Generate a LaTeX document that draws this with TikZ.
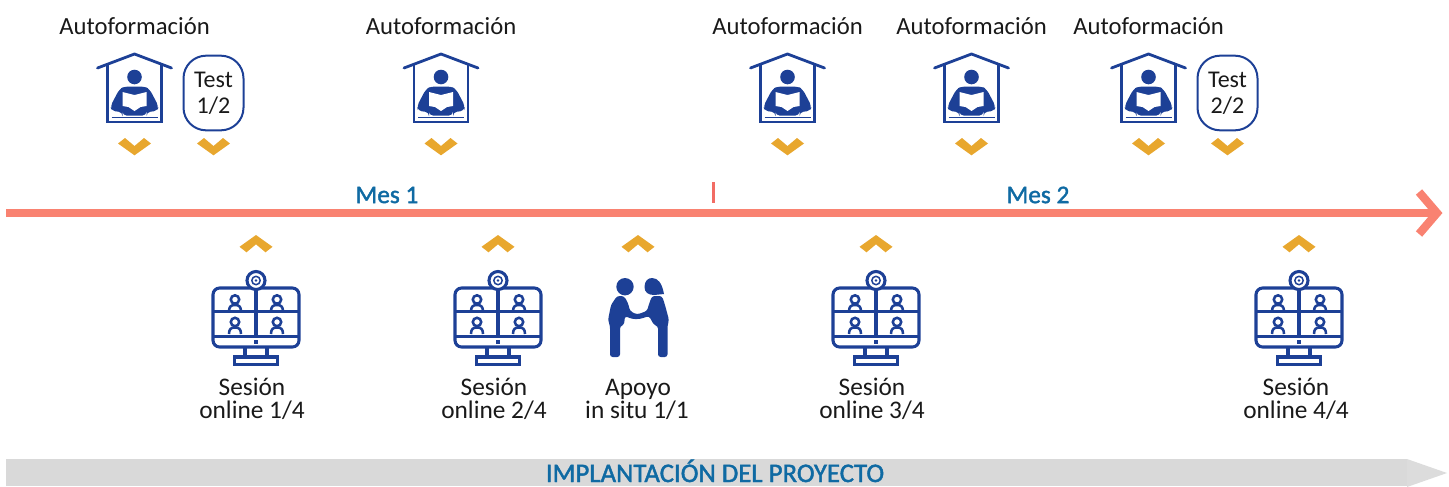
\documentclass[tikz,border=0pt]{standalone}
\usepackage{fontspec}
\setmainfont{Carlito}
\newfontfamily\medfont[FakeBold=1.6]{Carlito}
\definecolor{iconblue}{HTML}{1D4096}
\definecolor{chev}{HTML}{E8A72E}
\definecolor{salmon}{HTML}{F98271}
\definecolor{tickred}{HTML}{F26C64}
\definecolor{headblue}{HTML}{0F6AA3}
\definecolor{barg}{HTML}{D9D9D9}
\definecolor{barh}{HTML}{DCDCDC}
\tikzset{
  x=0.75pt,y=-0.75pt,
  lbl/.style={font=\fontsize{19}{18}\selectfont,text=black!90,align=center,inner sep=0pt},
  autolbl/.style={font=\fontsize{18.5}{18}\selectfont,text=black!90,align=center,inner sep=0pt},
  monthlbl/.style={font=\medfont\fontsize{19}{20}\selectfont,text=headblue,inner sep=0pt},
  testbox/.style={draw=iconblue,line width=1.5pt,rounded corners=17pt,minimum width=45pt,minimum height=56pt,inner sep=0pt,align=center,font=\fontsize{18}{19.5}\selectfont,text=black!90},
  icoline/.style={draw=iconblue,line width=2.1pt,line join=miter},
  pics/house/.style={code={
    \draw[icoline,line cap=round] (-37,14) -- (0,0) -- (37,14);
    \draw[icoline] (-27,11) -- (-27,68) -- (27,68) -- (27,11);
    \draw[draw=iconblue,line width=0.7pt] (-23,63.5) -- (23,63.5);
    \fill[iconblue] (0,23) circle (7.3);
    \fill[iconblue,rounded corners=3pt] (-10,32.5) -- (10,32.5) -- (15,35) -- (24,52) -- (23,57) -- (12,58) -- (12,61.5) -- (-12,61.5) -- (-12,58) -- (-23,57) -- (-24,52) -- (-15,35) -- cycle;
    \fill[white] (-12,38) -- (0,41) -- (12,38) -- (12,52) -- (6,53) -- (0,57) -- (-6,53) -- (-12,52) -- cycle;
  }},
  pics/monitor/.style={code={
    \draw[icoline,line width=2.3pt,rounded corners=5pt] (-43,8) rectangle (43,67);
    \draw[icoline,line width=2.3pt] (-43,31.5) -- (43,31.5) (-43,56.5) -- (43,56.5) (0,8) -- (0,56.5);
    \fill[white] (0,0.5) circle (9);
    \draw[icoline,line width=2.3pt] (0,0.5) circle (9);
    \draw[icoline,line width=1.1pt] (0,0.5) circle (4.2);
    \fill[iconblue] (0,0.5) circle (1.4);
    \fill[iconblue] (-1.7,60.2) rectangle (1.7,63.6);
    \draw[icoline,line width=2.3pt] (-11,67) -- (-11,77) (11,67) -- (11,77);
    \draw[icoline,line width=2.3pt] (-21.5,77) rectangle (21.5,84.5);
    \foreach \px in {-21,21}{\foreach \py in {19.5,42}{
      \draw[icoline,line width=1.9pt] (\px,\py) circle (4.2);
      \draw[icoline,line width=1.9pt] (\px-6,\py+12) .. controls (\px-6,\py+7) and (\px-4,\py+5.5) .. (\px,\py+5.5) .. controls (\px+4,\py+5.5) and (\px+6,\py+7) .. (\px+6,\py+12);
    }}
  }},
  pics/chevdown/.style={code={\fill[chev] (-16.5,5.5) -- (-9.5,0) -- (0,8) -- (9.5,0) -- (16.5,5.5) -- (0,17.3) -- cycle;}},
  pics/chevup/.style={code={\fill[chev] (-16.5,11.8) -- (-9.5,17.3) -- (0,9.3) -- (9.5,17.3) -- (16.5,11.8) -- (0,0) -- cycle;}},
}
\begin{document}
\begin{tikzpicture}
\useasboundingbox (0,0) rectangle (1449,486);
% bottom bar
\fill[barg] (6,459) rectangle (1407,486);
\fill[barh] (1407,459) -- (1447,473) -- (1407,487) -- cycle;
\node[font=\medfont\fontsize{20.1}{21}\selectfont,text=headblue,inner sep=0pt,anchor=base] (bar) at (715,482) {IMPLANTACIÓN DEL PROYECTO};
% timeline
\coordinate (ts) at (6,213);
\coordinate (te) at (1437,213);
\coordinate (a1) at (1419,192);
\coordinate (a2) at (1419,234);
\draw[salmon,line width=6.2pt] (ts) -- (te);
\draw[salmon,line width=6.2pt,miter limit=10] (a1) -- (te) -- (a2);
\coordinate (tk1) at (713.5,182);
\coordinate (tk2) at (713.5,203);
\draw[tickred,line width=1.9pt] (tk1) -- (tk2);
\node[monthlbl] (m1) at (387,195) {Mes 1};
\node[monthlbl] (m2) at (1038,195) {Mes 2};
% top labels
\foreach \n/\x in {a/134.5,b/441,c/787.5,d/971.5,e/1148.5}{
  \node[autolbl] (auto\n) at (\x,26) {Autoformación};
  \pic at (\x,54) {house};
  \pic at (\x,138) {chevdown};
}
\node[testbox] (t1) at (213.5,93) {Test\\1/2};
\pic at (213.5,138) {chevdown};
\node[testbox] (t2) at (1227.5,93) {Test\\2/2};
\pic at (1227.5,138) {chevdown};
% sessions
\foreach \n/\x/\lx/\t in {a/256/252/1,b/498/494/2,c/876/872/3,d/1299/1296/4}{
  \pic at (\x,235) {chevup};
  \pic at (\x,280) {monitor};
  \node[lbl,anchor=base] (s\n) at (\lx,395) {Sesión};
  \node[lbl,anchor=base] (o\n) at (\lx,418) {online \t/4};
}
\pic at (638,235) {chevup};
\node[lbl,anchor=base] (ap1) at (638,395) {Apoyo};
\node[lbl,anchor=base] (ap2) at (637,418) {in situ 1/1};
% handshake
\fill[iconblue] (625,286.7) circle (8.7);
\fill[iconblue] (644.5,287) .. controls (644.5,281) and (648,278) .. (652,278) .. controls (658,278) and (662,283) .. (664,294) -- (654,295) .. controls (648,295) and (644.5,292) .. (644.5,287) -- cycle;
\fill[iconblue,rounded corners=2pt] (617,296) -- (624,296) -- (628,303) -- (630,311) -- (637,314.5) -- (647,311) -- (649,304) -- (652,296) -- (662,296) -- (665,305) -- (669,320) -- (667.5,326) -- (667.5,357) -- (658,357) -- (658,326) -- (654,325) -- (649,316) -- (640,319) -- (632,319) -- (625,316) -- (624,325) -- (620,326) -- (620,357) -- (610,357) -- (610,326) -- (608,320) -- (611,305) -- cycle;
\end{tikzpicture}
\end{document}
